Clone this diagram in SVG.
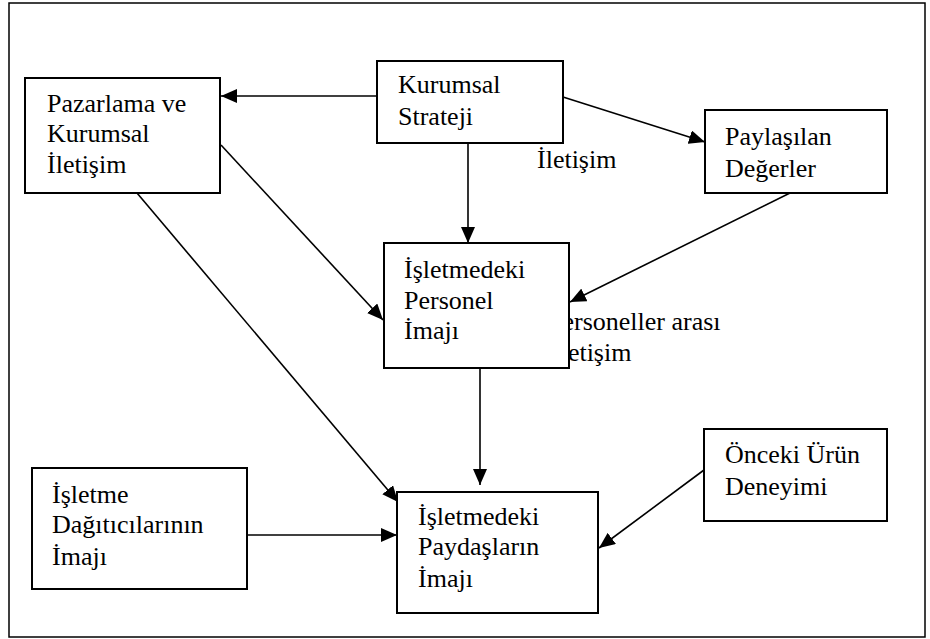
<svg xmlns="http://www.w3.org/2000/svg" width="930" height="639" viewBox="0 0 930 639">
<defs>
<marker id="ah" viewBox="0 0 16 14" refX="16" refY="7" markerWidth="16" markerHeight="14" markerUnits="userSpaceOnUse" orient="auto">
<path d="M0,0 L16,7 L0,14 Z" fill="#000"/>
</marker>
</defs>
<style>
.box{fill:#fff;stroke:#000;stroke-width:2}
.c{stroke:#000;stroke-width:1.6;fill:none;marker-end:url(#ah)}
</style>
<rect x="9" y="3" width="916" height="634" fill="#fff" stroke="#000" stroke-width="1.5"/>
<g font-family="Liberation Serif, Times New Roman, DejaVu Serif, serif" font-size="26" fill="#000">
<text x="548" y="330">Personeller arası</text>
<text x="552" y="361">İletişim</text>
<text x="537" y="168">İletişim</text>
</g>
<g id="connectors">
<line class="c" x1="377" y1="96" x2="221" y2="96"/>
<line class="c" x1="563" y1="97" x2="705" y2="142"/>
<line class="c" x1="468" y1="143" x2="468" y2="243"/>
<line class="c" x1="790" y1="193" x2="570" y2="302"/>
<line class="c" x1="221" y1="145" x2="383" y2="320"/>
<line class="c" x1="137" y1="193" x2="398" y2="502"/>
<line class="c" x1="480" y1="368" x2="480" y2="485"/>
<line class="c" x1="247" y1="535" x2="397" y2="535"/>
<line class="c" x1="704" y1="470" x2="599" y2="548"/>
</g>
<g font-family="Liberation Serif, Times New Roman, DejaVu Serif, serif" font-size="26" fill="#000">
<g id="kurumsal-strateji">
<rect class="box" x="377" y="61" width="186" height="82"/>
<text x="398" y="93">Kurumsal</text>
<text x="398" y="125">Strateji</text>
</g>
<g id="pazarlama">
<rect class="box" x="25" y="78" width="195" height="115"/>
<text x="47" y="112">Pazarlama ve</text>
<text x="47" y="142">Kurumsal</text>
<text x="47" y="173">İletişim</text>
</g>
<g id="paylasilan">
<rect class="box" x="705" y="110" width="182" height="83"/>
<text x="725" y="145">Paylaşılan</text>
<text x="725" y="177">Değerler</text>
</g>
<g id="personel">
<rect class="box" x="384" y="243" width="185" height="125"/>
<text x="404" y="278">İşletmedeki</text>
<text x="404" y="309">Personel</text>
<text x="404" y="339">İmajı</text>
</g>
<g id="paydaslar">
<rect class="box" x="397" y="492" width="201" height="121"/>
<text x="418" y="525">İşletmedeki</text>
<text x="418" y="555">Paydaşların</text>
<text x="418" y="587">İmajı</text>
</g>
<g id="dagiticilar">
<rect class="box" x="32" y="468" width="215" height="121"/>
<text x="52" y="503">İşletme</text>
<text x="52" y="533">Dağıtıcılarının</text>
<text x="52" y="565">İmajı</text>
</g>
<g id="onceki">
<rect class="box" x="704" y="429" width="183" height="92"/>
<text x="725" y="463">Önceki Ürün</text>
<text x="725" y="495">Deneyimi</text>
</g>
</g>
</svg>
